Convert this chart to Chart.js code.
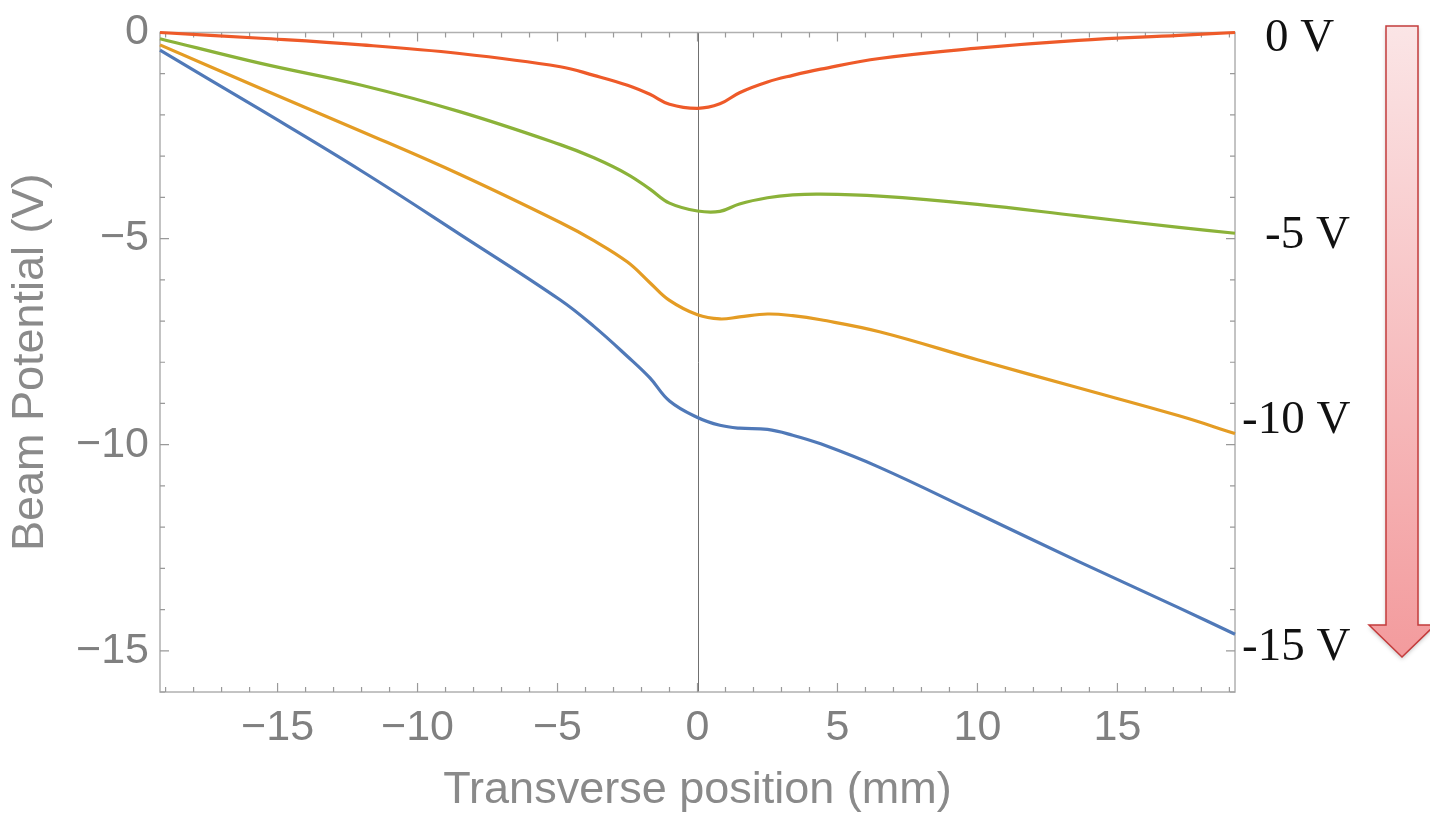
<!DOCTYPE html>
<html>
<head>
<meta charset="utf-8">
<script src="https://cdn.jsdelivr.net/npm/chart.js@4.4.1/dist/chart.umd.min.js"></script>
<style>
  html, body { margin: 0; padding: 0; background: #fff; }
  #wrap { width: 1430px; height: 813px; }
</style>
</head>
<body>
<div id="wrap"><canvas id="potChart" width="1430" height="813"></canvas></div>
<script>
// transverse position (mm)
var positions = [-19.2, -15.6, -12.0, -8.5, -4.9, -3.7, -2.5, -1.7, -1.0, 0, 0.8, 1.5, 2.5, 3.4, 4.4, 6.5, 10.0, 13.6, 17.2, 19.2];

// beam potential (V) for each applied bias
var bias0V   = [0, -0.14, -0.30, -0.51, -0.83, -1.04, -1.28, -1.50, -1.74, -1.84, -1.73, -1.46, -1.20, -1.04, -0.89, -0.63, -0.38, -0.19, -0.07, 0];
var bias5V   = [-0.15, -0.75, -1.28, -1.92, -2.72, -3.04, -3.44, -3.80, -4.14, -4.33, -4.34, -4.16, -4.01, -3.94, -3.92, -3.97, -4.17, -4.45, -4.73, -4.87];
var bias10V  = [-0.30, -1.36, -2.40, -3.44, -4.61, -5.05, -5.57, -6.07, -6.50, -6.85, -6.95, -6.90, -6.83, -6.87, -6.97, -7.26, -7.94, -8.62, -9.30, -9.73];
var bias15V  = [-0.43, -1.88, -3.36, -4.89, -6.49, -7.13, -7.86, -8.38, -8.94, -9.34, -9.53, -9.60, -9.63, -9.77, -9.98, -10.55, -11.67, -12.83, -13.96, -14.60];

var xTickValues = [-15, -10, -5, 0, 5, 10, 15];
var yTickValues = [0, -5, -10, -15];
var biasLabels = ['0 V', '-5 V', '-10 V', '-15 V'];

function toPoints(ys) {
    return positions.map(function (x, i) { return { x: x, y: ys[i] }; });
}

function fmtTick(v) {
    return v < 0 ? '\u2212' + Math.abs(v) : String(v);
}

function lineSet(label, data, color) {
    return {
        label: label,
        data: toPoints(data),
        borderColor: color,
        borderWidth: 3.2,
        pointRadius: 0,
        fill: false,
        tension: 0.4,
        clip: 6
    };
}

// frame with inward ticks plus the x = 0 line
var framePlugin = {
    id: 'frame',
    beforeDatasetsDraw: function (chart) {
        var ctx = chart.ctx, a = chart.chartArea;
        var xs = chart.scales.x, ys = chart.scales.y;
        ctx.save();
        var x0 = Math.round(xs.getPixelForValue(0)) + 0.5;
        ctx.strokeStyle = '#707070';
        ctx.lineWidth = 1;
        ctx.beginPath();
        ctx.moveTo(x0, a.top);
        ctx.lineTo(x0, a.bottom);
        ctx.stroke();

        ctx.strokeStyle = '#b0b0b0';
        ctx.lineWidth = 1.5;
        ctx.strokeRect(a.left, a.top, a.right - a.left, a.bottom - a.top);

        ctx.strokeStyle = '#999';
        ctx.lineWidth = 1.2;
        ctx.beginPath();
        for (var v = -19; v <= 19; v++) {
            var len = v % 5 === 0 ? 9 : 5;
            var px = xs.getPixelForValue(v);
            ctx.moveTo(px, a.bottom); ctx.lineTo(px, a.bottom - len);
            ctx.moveTo(px, a.top); ctx.lineTo(px, a.top + len);
        }
        for (var w = -16; w <= 0; w++) {
            var len2 = w % 5 === 0 ? 9 : 5;
            var py = ys.getPixelForValue(w);
            ctx.moveTo(a.left, py); ctx.lineTo(a.left + len2, py);
            ctx.moveTo(a.right, py); ctx.lineTo(a.right - len2, py);
        }
        ctx.stroke();
        ctx.restore();
    }
};

// bias labels and the downward arrow on the right
var biasPlugin = {
    id: 'bias',
    afterDraw: function (chart) {
        var ctx = chart.ctx;
        ctx.save();
        ctx.fillStyle = '#111';
        ctx.font = '47px "Liberation Serif", "Times New Roman", serif';
        ctx.textBaseline = 'alphabetic';
        var spots = [[1265, 51], [1265, 248], [1242, 433], [1242, 660]];
        biasLabels.forEach(function (t, i) {
            ctx.fillText(t, spots[i][0], spots[i][1]);
        });

        var l = 1386, r = 1418, top = 26, neck = 625, tip = 657, cx = (l + r) / 2;
        var g = ctx.createLinearGradient(0, top, 0, tip);
        g.addColorStop(0, '#fbe5e6');
        g.addColorStop(1, '#f39b9d');
        ctx.beginPath();
        ctx.moveTo(l, top);
        ctx.lineTo(r, top);
        ctx.lineTo(r, neck);
        ctx.lineTo(cx + 33, neck);
        ctx.lineTo(cx, tip);
        ctx.lineTo(cx - 33, neck);
        ctx.lineTo(l, neck);
        ctx.closePath();
        ctx.shadowColor = 'rgba(0,0,0,0.25)';
        ctx.shadowBlur = 4;
        ctx.shadowOffsetY = 2;
        ctx.fillStyle = g;
        ctx.fill();
        ctx.shadowColor = 'transparent';
        ctx.strokeStyle = '#c43c3c';
        ctx.lineWidth = 1.5;
        ctx.stroke();
        ctx.restore();
    }
};

var tickFont = { family: '"Liberation Sans", Arial, sans-serif', size: 43, lineHeight: 1 };
var titleFont = { family: '"Liberation Sans", Arial, sans-serif', size: 45, lineHeight: 1 };

new Chart(document.getElementById('potChart'), {
    type: 'line',
    data: {
        datasets: [
            lineSet('-15 V', bias15V, '#5079b8'),
            lineSet('-10 V', bias10V, '#e49c24'),
            lineSet('-5 V', bias5V, '#8bb239'),
            lineSet('0 V', bias0V, '#ee5a29')
        ]
    },
    options: {
        responsive: false,
        animation: false,
        layout: { padding: { top: 27, right: 195, left: 0, bottom: 0 } },
        plugins: { legend: { display: false }, tooltip: { enabled: false } },
        scales: {
            x: {
                type: 'linear',
                min: -19.2,
                max: 19.2,
                grid: { display: false, drawTicks: false },
                border: { display: false },
                afterBuildTicks: function (s) { s.ticks = xTickValues.map(function (v) { return { value: v }; }); },
                afterFit: function (s) { s.height = 121; },
                ticks: { color: '#808080', font: tickFont, padding: 15, maxRotation: 0, autoSkip: false, callback: fmtTick },
                title: { display: true, text: 'Transverse position (mm)', color: '#8a8a8a', font: titleFont, padding: { top: 0, bottom: 0 } }
            },
            y: {
                type: 'linear',
                min: -16,
                max: 0,
                grid: { display: false, drawTicks: false },
                border: { display: false },
                afterBuildTicks: function (s) { s.ticks = yTickValues.map(function (v) { return { value: v }; }); },
                afterFit: function (s) { s.width = 160; },
                ticks: { color: '#808080', font: tickFont, padding: 11, autoSkip: false, callback: fmtTick },
                title: { display: true, text: 'Beam Potential (V)', color: '#8a8a8a', font: titleFont, padding: { top: 8, bottom: 0 } }
            }
        }
    },
    plugins: [framePlugin, biasPlugin]
});
</script>
</body>
</html>
